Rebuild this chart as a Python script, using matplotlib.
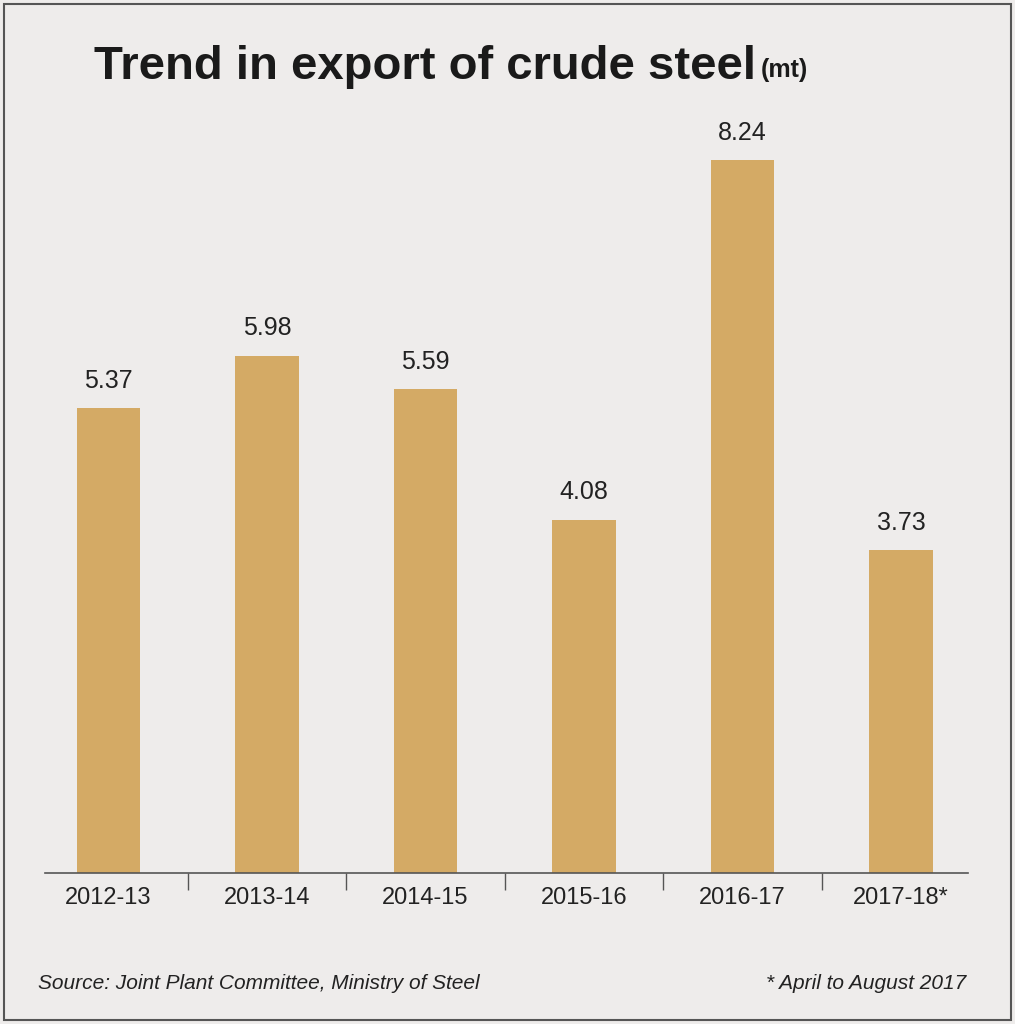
import matplotlib.pyplot as plt
from matplotlib.patches import Rectangle

years = ["2012-13", "2013-14", "2014-15", "2015-16", "2016-17", "2017-18*"]
exports = [5.37, 5.98, 5.59, 4.08, 8.24, 3.73]

bg = "#eeeceb"
bar_color = "#d4aa65"
fam = ["Liberation Sans Narrow", "Liberation Sans", "DejaVu Sans"]

fig = plt.figure(figsize=(10.15, 10.24), dpi=100, facecolor=bg)
fig.patches.append(Rectangle((0.004, 0.004), 0.992, 0.992, transform=fig.transFigure,
                             fill=False, edgecolor="#555555", linewidth=1.5))

ax = fig.add_axes([0.0443, 0.1475, 0.909, 0.7602], facecolor=bg)
x = range(len(years))
ax.bar(x, exports, width=0.40, color=bar_color)
for i, v in zip(x, exports):
    ax.text(i, v + 0.18, f"{v:.2f}", ha="center", va="bottom", fontsize=18, family=fam, color="#222222")

ax.set_xlim(-0.4, 5.42)
ax.set_ylim(0, 9)
for s in ["top", "right", "left"]:
    ax.spines[s].set_visible(False)
ax.spines["bottom"].set_color("#555555")
ax.spines["bottom"].set_linewidth(1.2)
ax.set_yticks([])
ax.set_xticks(list(x))
ax.set_xticklabels(years, fontsize=17, family=fam, color="#222222")
ax.tick_params(axis="x", which="major", length=0, pad=10)
ax.set_xticks([0.5, 1.5, 2.5, 3.5, 4.5], minor=True)
ax.tick_params(axis="x", which="minor", length=12, color="#555555", width=1)

fig.text(0.745, 0.935, "Trend in export of crude steel", ha="right", va="center",
         fontsize=34, fontweight="bold", family=fam, color="#1a1a1a")
fig.text(0.75, 0.932, "(mt)", ha="left", va="center", fontsize=18,
         fontweight="bold", family=fam, color="#1a1a1a")

fig.text(0.037, 0.04, "Source: Joint Plant Committee, Ministry of Steel", ha="left", va="center",
         fontsize=15, style="italic", family=fam, color="#222222")
fig.text(0.952, 0.04, "* April to August 2017", ha="right", va="center",
         fontsize=15, style="italic", family=fam, color="#222222")

fig.savefig("out.png", dpi=100, facecolor=bg)
